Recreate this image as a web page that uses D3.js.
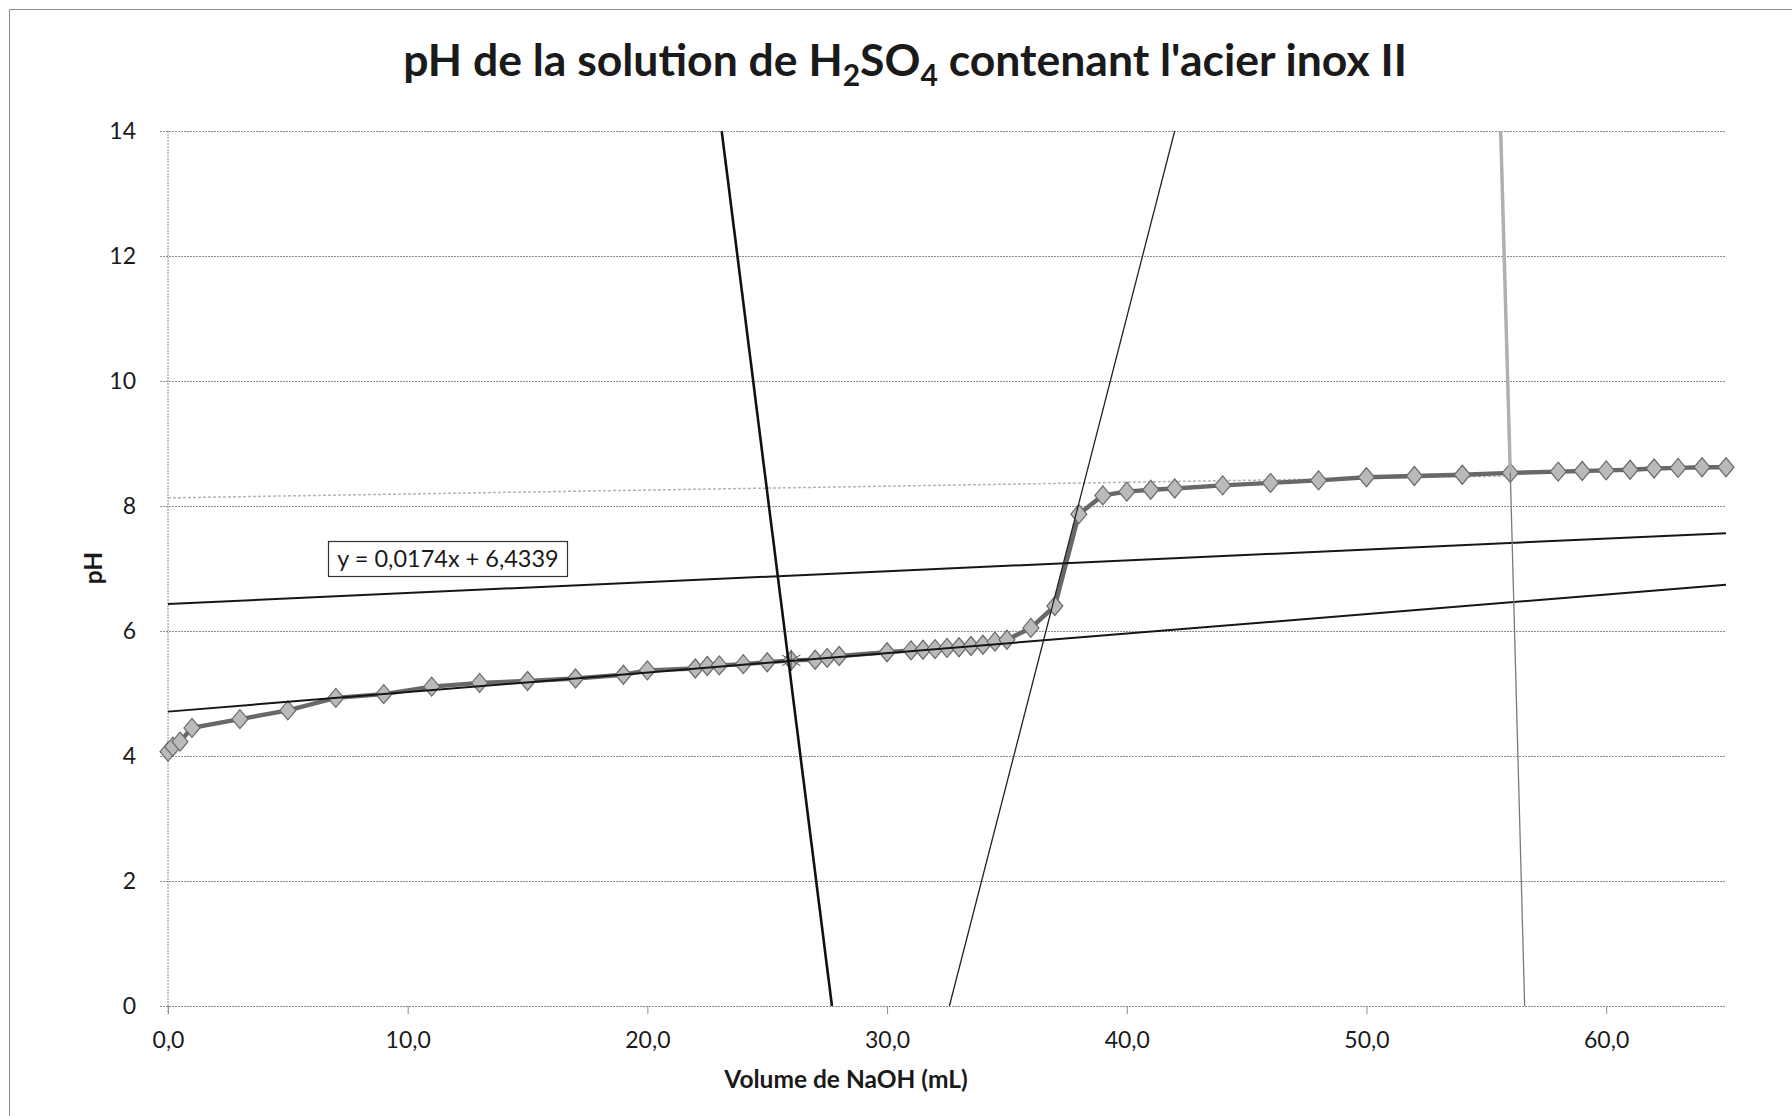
<!DOCTYPE html>
<html>
<head>
<meta charset="utf-8">
<script src="https://cdn.jsdelivr.net/npm/d3@7"></script>
<style>
  body { margin: 0; background: #fff; }
  text { font-family: Lato, "Open Sans", sans-serif; fill: #1a1a1a; }
</style>
</head>
<body>
<div id="chart"></div>
<script>
// titration data
const volume = [0, 0.2, 0.5, 1, 3, 5, 7, 9, 11, 13, 15, 17, 19, 20, 22, 22.5, 23, 24, 25, 26,
  27, 27.5, 28, 30, 31, 31.5, 32, 32.5, 33, 33.5, 34, 34.5, 35, 36, 37, 38, 39, 40, 41, 42,
  44, 46, 48, 50, 52, 54, 56, 58, 59, 60, 61, 62, 63, 64, 65];
const phValues = [4.07, 4.15, 4.23, 4.45, 4.59, 4.73, 4.93, 4.99, 5.11, 5.17, 5.20, 5.24, 5.30, 5.37,
  5.40, 5.44, 5.45, 5.47, 5.50, 5.53, 5.54, 5.57, 5.60, 5.66, 5.69, 5.70, 5.71, 5.73, 5.74, 5.76,
  5.78, 5.83, 5.86, 6.05, 6.40, 7.87, 8.17, 8.23, 8.26, 8.28, 8.33, 8.37, 8.41, 8.46, 8.48, 8.50,
  8.53, 8.55, 8.56, 8.57, 8.58, 8.60, 8.61, 8.62, 8.62];

const xTicks = [0, 10, 20, 30, 40, 50, 60];
const yTicks = [0, 2, 4, 6, 8, 10, 12, 14];

// trend line from the label
const trendSlope = 0.0174;
const trendIntercept = 6.4339;

// hand drawn construction lines (volume, pH)
const lowTrendX = [0, 65];
const lowTrendY = [4.71, 6.74];
const steepLeftX = [23.1, 27.7];
const steepLeftY = [14, 0];
const steepRightX = [32.6, 42.0];
const steepRightY = [0, 14];
const plateauTrendX = [0, 56];
const plateauTrendY = [8.13, 8.48];
const verticalTopX = [55.6, 56.0];
const verticalTopY = [14, 8.53];
const verticalBottomX = [56.0, 56.6];
const verticalBottomY = [8.53, 0];

const MARGIN = { LEFT: 168, RIGHT: 66, TOP: 131, BOTTOM: 110 };
const WIDTH = 1792 - MARGIN.LEFT - MARGIN.RIGHT;
const HEIGHT = 1116 - MARGIN.TOP - MARGIN.BOTTOM;

const svg = d3.select("#chart").append("svg")
  .attr("width", 1792)
  .attr("height", 1116);

// chart frame (only top and left edges fall inside the scan)
svg.append("rect")
  .attr("x", 9.5).attr("y", 9.5)
  .attr("width", 1820).attr("height", 1200)
  .attr("fill", "none").attr("stroke", "#8a8a8a").attr("stroke-width", 1);

// title with subscripts
const title = svg.append("text")
  .attr("x", 905).attr("y", 76)
  .attr("text-anchor", "middle")
  .attr("font-size", "44.5px")
  .attr("font-weight", "bold");
title.append("tspan").text("pH de la solution de H");
title.append("tspan").attr("dy", 10).attr("font-size", "30px").text("2");
title.append("tspan").attr("dy", -10).text("SO");
title.append("tspan").attr("dy", 10).attr("font-size", "30px").text("4");
title.append("tspan").attr("dy", -10).text(" contenant l'acier inox II");

const g = svg.append("g").attr("transform", `translate(${MARGIN.LEFT}, ${MARGIN.TOP})`);

const x = d3.scaleLinear().domain([0, 65]).range([0, WIDTH]);
const y = d3.scaleLinear().domain([0, 14]).range([HEIGHT, 0]);

// y axis + horizontal gridlines
const yAxisGroup = g.append("g")
  .call(d3.axisLeft(y).tickValues(yTicks).tickSize(-WIDTH).tickPadding(32).tickFormat(d3.format("d")));
yAxisGroup.select(".domain").remove();
yAxisGroup.selectAll("line")
  .attr("x1", -8)
  .attr("stroke", "#8c8c8c")
  .attr("stroke-dasharray", "2,1");
yAxisGroup.selectAll("text").attr("font-size", "23px").attr("font-family", "Lato, sans-serif").attr("fill", "#1a1a1a");

// x axis
const xAxisGroup = g.append("g")
  .attr("transform", `translate(0, ${HEIGHT})`)
  .call(d3.axisBottom(x).tickValues(xTicks).tickSize(8).tickPadding(18)
    .tickFormat((d) => d3.format(".1f")(d).replace(".", ",")));
xAxisGroup.select(".domain").remove();
xAxisGroup.selectAll("line").attr("stroke", "#8c8c8c");
xAxisGroup.selectAll("text").attr("font-size", "23px").attr("font-family", "Lato, sans-serif").attr("fill", "#1a1a1a");

// vertical axis line
g.append("line")
  .attr("x1", 0).attr("x2", 0)
  .attr("y1", y(14)).attr("y2", y(0) + 8)
  .attr("stroke", "#8c8c8c")
  .attr("stroke-dasharray", "2,1");

// axis labels
g.append("text")
  .attr("x", 846 - MARGIN.LEFT).attr("y", 1088 - MARGIN.TOP)
  .attr("text-anchor", "middle")
  .attr("font-size", "24.5px")
  .attr("font-weight", "bold")
  .text("Volume de NaOH (mL)");

g.append("text")
  .attr("transform", `translate(${94 - MARGIN.LEFT + 8}, ${568 - MARGIN.TOP}) rotate(-90)`)
  .attr("text-anchor", "middle")
  .attr("font-size", "24.5px")
  .attr("font-weight", "bold")
  .text("pH");

const data = volume.map((v, i) => ({ v: v, ph: phValues[i] }));

const line = d3.line().x((d) => x(d.v)).y((d) => y(d.ph));

// plateau trend (light)
g.append("path")
  .datum(plateauTrendX.map((v, i) => ({ v: v, ph: plateauTrendY[i] })))
  .attr("d", line)
  .attr("fill", "none")
  .attr("stroke", "#b4b4b4")
  .attr("stroke-width", 1.5)
  .attr("stroke-dasharray", "3,2");

// series
g.append("path")
  .datum(data)
  .attr("d", line)
  .attr("fill", "none")
  .attr("stroke", "#686868")
  .attr("stroke-width", 4.5);

const diamond = "M0,-9.5L8,0L0,9.5L-8,0Z";
g.selectAll(".marker")
  .data(data)
  .enter()
  .append("path")
  .attr("class", "marker")
  .attr("d", diamond)
  .attr("transform", (d) => `translate(${x(d.v)}, ${y(d.ph)})`)
  .attr("fill", "#bababa")
  .attr("stroke", "#6a6a6a")
  .attr("stroke-width", 1.2);

// the point marked with a cross at the intersection
g.selectAll(".cross")
  .data(data.filter((d) => d.v === 26))
  .enter()
  .append("path")
  .attr("d", d3.symbol().type(d3.symbolAsterisk).size(320))
  .attr("transform", (d) => `translate(${x(d.v)}, ${y(d.ph)})`)
  .attr("fill", "none")
  .attr("stroke", "#555")
  .attr("stroke-width", 1);

// construction lines
const lineSpecs = [
  { xs: lowTrendX, ys: lowTrendY, color: "#161616", w: 2 },
  { xs: [0, 65], ys: [trendIntercept, trendIntercept + trendSlope * 65], color: "#161616", w: 2 },
  { xs: steepLeftX, ys: steepLeftY, color: "#111", w: 2.6 },
  { xs: steepRightX, ys: steepRightY, color: "#222", w: 1.3 },
  { xs: verticalTopX, ys: verticalTopY, color: "#b0b0b0", w: 3.5 },
  { xs: verticalBottomX, ys: verticalBottomY, color: "#7a7a7a", w: 1.3 },
];

lineSpecs.forEach((s) => {
  g.append("path")
    .datum(s.xs.map((v, i) => ({ v: v, ph: s.ys[i] })))
    .attr("d", line)
    .attr("fill", "none")
    .attr("stroke", s.color)
    .attr("stroke-width", s.w);
});

// equation label
const eq = svg.append("g");
eq.append("rect")
  .attr("x", 328.5).attr("y", 541.5)
  .attr("width", 239).attr("height", 35)
  .attr("fill", "#fff")
  .attr("stroke", "#333")
  .attr("stroke-width", 1.2);
eq.append("text")
  .attr("x", 448).attr("y", 567)
  .attr("text-anchor", "middle")
  .attr("font-size", "23.5px")
  .text("y = 0,0174x + 6,4339");
</script>
</body>
</html>
